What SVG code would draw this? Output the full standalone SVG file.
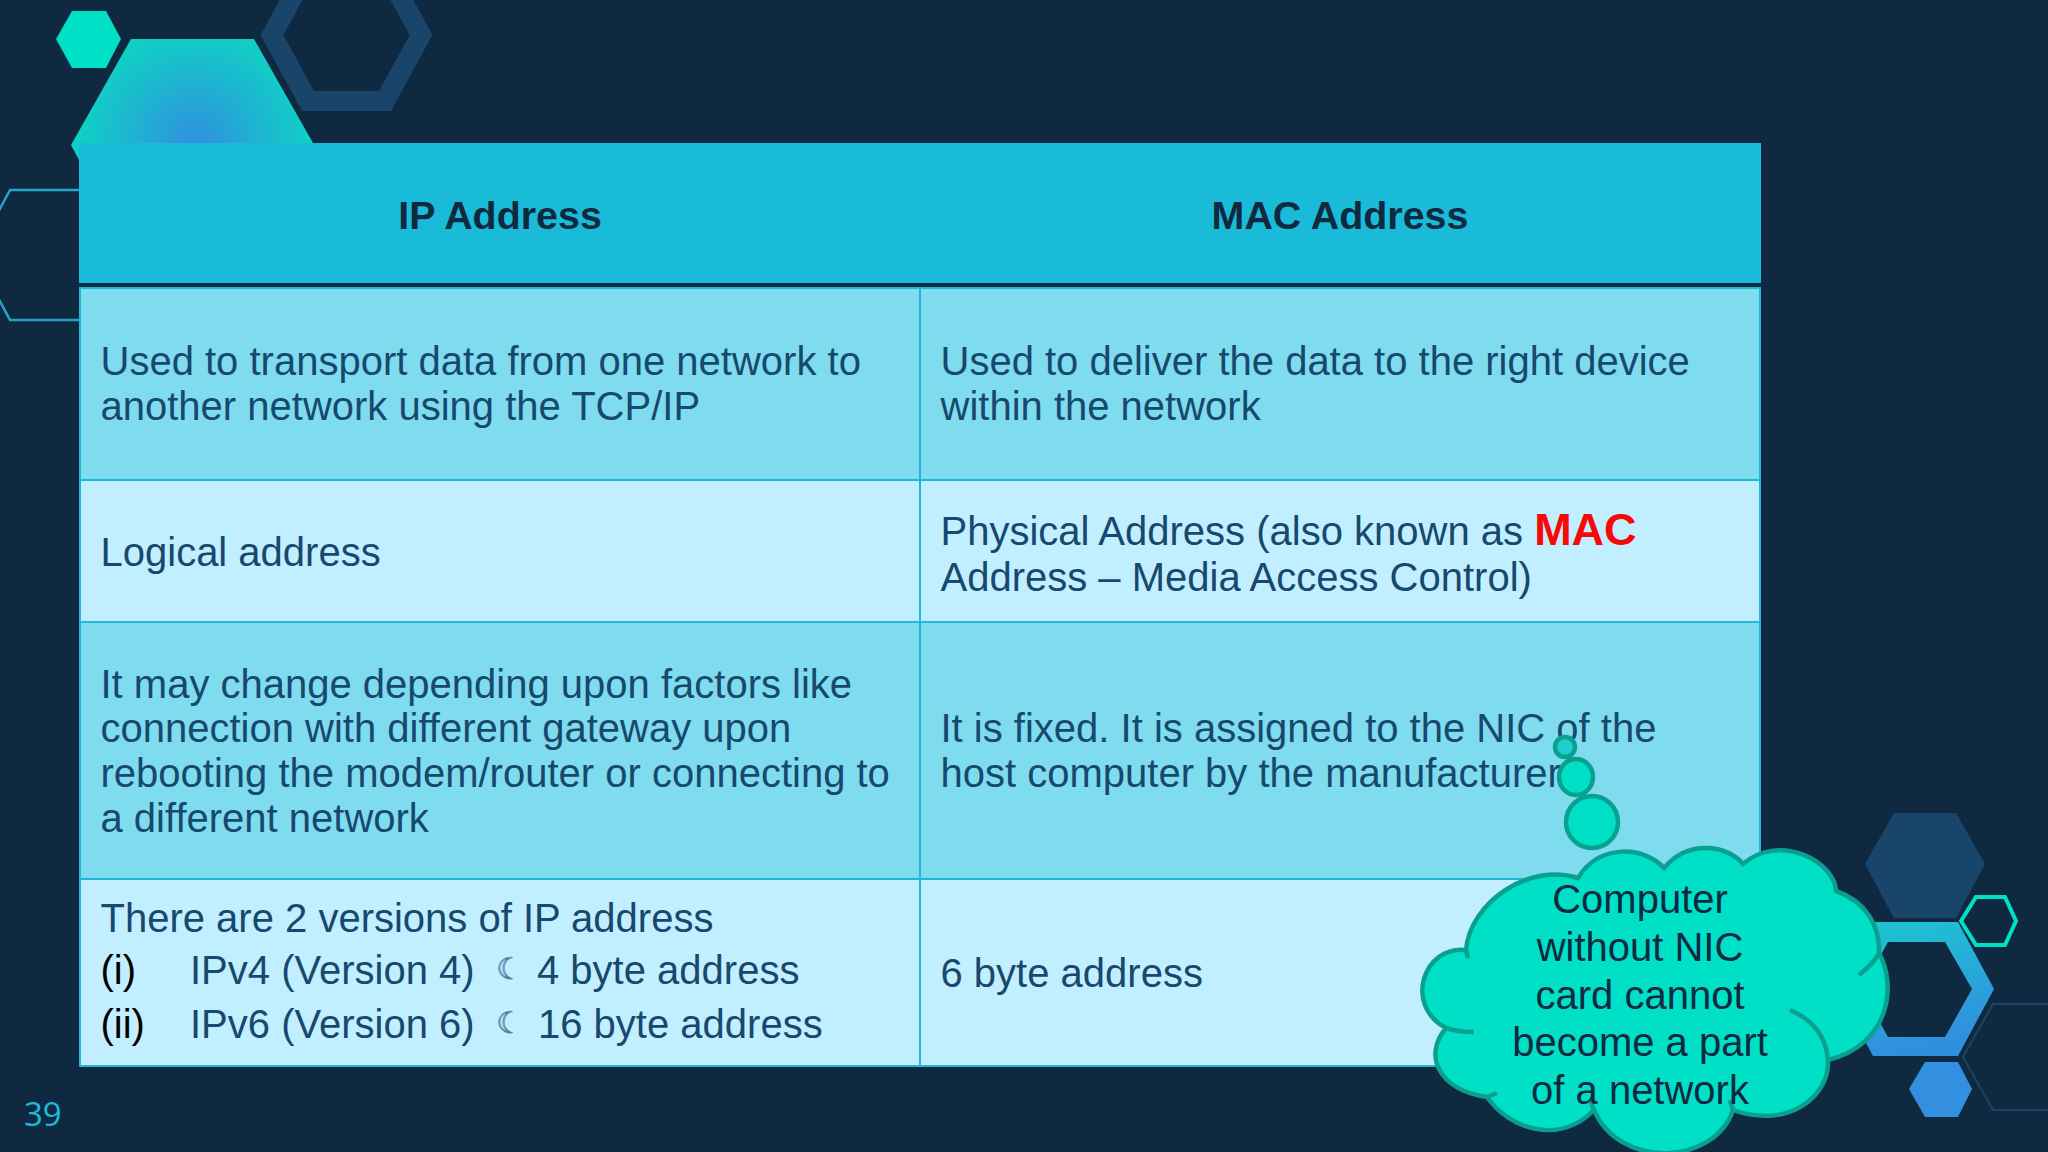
<svg xmlns="http://www.w3.org/2000/svg" width="2048" height="1152" viewBox="0 0 2048 1152">
<style>
.t{font-family:"Liberation Sans",Arial,sans-serif;font-size:40px;fill:#17486E}
.k{fill:#000}
.h{font-family:"Liberation Sans",Arial,sans-serif;font-weight:700;font-size:39.4px;fill:#0F2A40;text-anchor:middle}
.c{font-family:"Liberation Sans",Arial,sans-serif;font-size:40px;fill:#0F2A40;text-anchor:middle}
.m{font-family:"DejaVu Sans",sans-serif;font-size:30px;fill:#C2EFFF;stroke:#4F819E;stroke-width:0.8}
.cell{stroke:#1FB8D8;stroke-width:2}
.bub{fill:#00E0C6;stroke:#0AA090;stroke-width:4.5}
</style>
<defs>
<radialGradient id="rg" gradientUnits="userSpaceOnUse" cx="195" cy="143" r="115"><stop offset="0" stop-color="#3090E0"/><stop offset="1" stop-color="#10D0C4"/></radialGradient>
<linearGradient id="lg" x1="0" y1="0" x2="0.3" y2="1"><stop offset="0" stop-color="#1CC8D0"/><stop offset="1" stop-color="#3090E0"/></linearGradient>
</defs>
<rect width="2048" height="1152" fill="#0F2A40"/>
<g id="decor">
<polygon points="56,39 72,11 106,11 121,39 106,68 72,68" fill="#00E0C6"/>
<polygon points="71,145 131,39 254,39 313,143 79,160" fill="url(#rg)"/>
<polygon points="272,35 308,101 385,101 421,35 385,-31 308,-31" fill="none" stroke="#1A456A" stroke-width="20"/>
<polygon points="10,190 -25,255 10,320 90,320 90,190" fill="none" stroke="#25A5C5" stroke-width="2.5"/>
<polygon points="1865,864 1894,813 1956,813 1985,864 1956,918 1894,918" fill="#1A456A"/>
<path d="M1837,989L1873,922H1958L1994,989L1958,1056H1873ZM1862,989L1888,1037H1945L1972,989L1945,942H1888Z" fill="url(#lg)" fill-rule="evenodd"/>
<polygon points="1961,921 1976,897 2005,897 2016,921 2005,945 1976,945" fill="#0F2A40" stroke="#00E0C6" stroke-width="4"/>
<polygon points="1909,1089 1925,1062 1958,1062 1972,1089 1958,1117 1925,1117" fill="#3390E0"/>
<polyline points="2050,1004 1993,1004 1963,1057 1993,1110 2050,1110" fill="none" stroke="#1A456A" stroke-width="2"/>
</g>
<g id="table">
<rect x="79" y="143" width="1682" height="141" fill="#1ABBD9"/>
<rect x="79" y="283" width="1682" height="5" fill="#0F2A40"/>
<rect class="cell" x="80" y="288" width="840" height="192" fill="#7FDCEF"/>
<rect class="cell" x="920" y="288" width="840" height="192" fill="#7FDCEF"/>
<rect class="cell" x="80" y="480" width="840" height="142" fill="#C2EFFF"/>
<rect class="cell" x="920" y="480" width="840" height="142" fill="#C2EFFF"/>
<rect class="cell" x="80" y="622" width="840" height="257" fill="#7FDCEF"/>
<rect class="cell" x="920" y="622" width="840" height="257" fill="#7FDCEF"/>
<rect class="cell" x="80" y="879" width="840" height="187" fill="#C2EFFF"/>
<rect class="cell" x="920" y="879" width="840" height="187" fill="#C2EFFF"/>
<text class="h" x="500" y="229">IP Address</text>
<text class="h" x="1340" y="229">MAC Address</text>
<text class="t" x="100.5" y="375">Used to transport data from one network to</text>
<text class="t" x="100.5" y="420">another network using the TCP/IP</text>
<text class="t" x="940.5" y="375">Used to deliver the data to the right device</text>
<text class="t" x="940.5" y="420">within the network</text>
<text class="t" x="100.5" y="566">Logical address</text>
<text class="t" x="940.5" y="545">Physical Address (also known as <tspan style="font-weight:700;font-size:45px;fill:#F80808">MAC</tspan></text>
<text class="t" x="940.5" y="591">Address – Media Access Control)</text>
<text class="t" x="100.5" y="698">It may change depending upon factors like</text>
<text class="t" x="100.5" y="742">connection with different gateway upon</text>
<text class="t" x="100.5" y="787">rebooting the modem/router or connecting to</text>
<text class="t" x="100.5" y="832">a different network</text>
<text class="t" x="940.5" y="742">It is fixed. It is assigned to the NIC of the</text>
<text class="t" x="940.5" y="787">host computer by the manufacturer</text>
<text class="t" x="100.5" y="932">There are 2 versions of IP address</text>
<text class="t k" x="100.5" y="984">(i)</text>
<text class="t" x="190" y="984">IPv4 (Version 4)</text>
<text class="m" x="496" y="979">☾</text>
<text class="t" x="537" y="984">4 byte address</text>
<text class="t k" x="100.5" y="1038">(ii)</text>
<text class="t" x="190" y="1038">IPv6 (Version 6)</text>
<text class="m" x="496" y="1033">☾</text>
<text class="t" x="538" y="1038">16 byte address</text>
<text class="t" x="940.5" y="987">6 byte address</text>
</g>
<g id="callout">
<ellipse class="bub" cx="1565" cy="747" rx="10" ry="10" style="fill:#1CCFC8"/>
<ellipse class="bub" cx="1576" cy="777" rx="17" ry="18"/>
<ellipse class="bub" cx="1592" cy="822" rx="26" ry="26"/>
<path class="bub" d="M1466,950C1470,902 1530,862 1578,878C1600,842 1645,847 1664,868C1690,837 1730,847 1743,864C1780,832 1835,862 1836,891C1865,901 1880,925 1879,953C1897,985 1890,1045 1828,1060C1830,1095 1790,1130 1733,1110C1715,1165 1620,1170 1594,1110C1560,1145 1510,1130 1487,1097C1438,1090 1423,1055 1446,1028C1403,1005 1424,945 1466,950Z"/>
<path d="M1466,950L1468,958M1879,953Q1875,962 1859,975M1828,1060Q1825,1025 1790,1010M1733,1110L1730,1100M1594,1110L1590,1100M1487,1097L1497,1093M1446,1028Q1458,1032 1474,1032" fill="none" stroke="#0AA090" stroke-width="4.5"/>
<text class="c" x="1640" y="913">Computer</text>
<text class="c" x="1640" y="961">without NIC</text>
<text class="c" x="1640" y="1009">card cannot</text>
<text class="c" x="1640" y="1056">become a part</text>
<text class="c" x="1640" y="1104">of a network</text>
</g>
<text id="page" x="24" y="1126" style="font-family:'Open Sans',sans-serif;font-size:33px;fill:#1FB8D8">39</text>
</svg>
